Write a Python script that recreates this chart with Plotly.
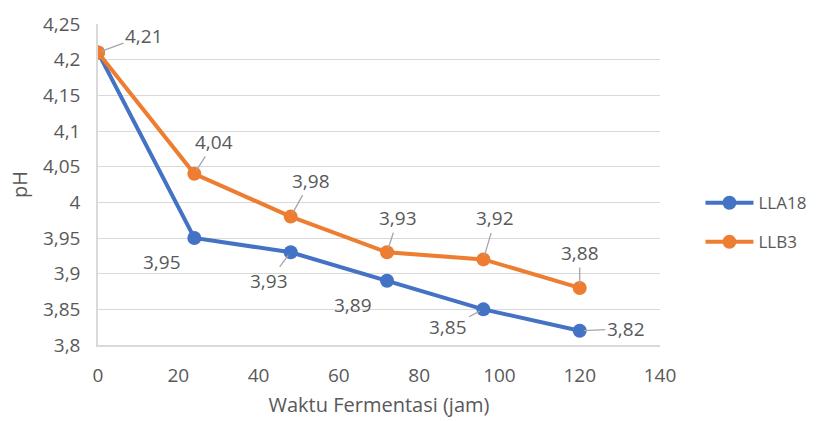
import plotly.graph_objects as go

hours = [0, 24, 48, 72, 96, 120]
lla18 = [4.21, 3.95, 3.93, 3.89, 3.85, 3.82]
llb3 = [4.21, 4.04, 3.98, 3.93, 3.92, 3.88]
lla18_labels = ["", "3,95", "3,93", "3,89", "3,85", "3,82"]
llb3_labels = ["4,21", "4,04", "3,98", "3,93", "3,92", "3,88"]
y_ticks = [3.8, 3.85, 3.9, 3.95, 4.0, 4.05, 4.1, 4.15, 4.2, 4.25]
y_ticktext = ["3,8", "3,85", "3,9", "3,95", "4", "4,05", "4,1", "4,15", "4,2", "4,25"]
x_ticks = [0, 20, 40, 60, 80, 100, 120, 140]

BLUE = "#4472C4"
ORANGE = "#ED7D31"
TXT = "#595959"
FONT = "Open Sans"

# label offsets (pixels) and whether a leader line is drawn
lla18_off = [None, (-32, 24, False), (-22, 29, True), (-34, 24, False), (-35, 18, True), (46, -2, True)]
llb3_off = [(46, -17, True), (20, -32, True), (20, -36, True), (11, -34, True), (12, -41, True), (0, -35, True)]

fig = go.Figure()
fig.add_trace(go.Scatter(x=hours, y=lla18, name="LLA18", mode="lines+markers",
                         line=dict(color=BLUE, width=4), marker=dict(size=14, color=BLUE),
                         legendgroup="a"))
fig.add_trace(go.Scatter(x=hours, y=llb3, name="LLB3", mode="lines+markers",
                         line=dict(color=ORANGE, width=4), marker=dict(size=14, color=ORANGE),
                         legendgroup="b"))

annotations = []
for xs, ys, labs, offs in [(hours, lla18, lla18_labels, lla18_off), (hours, llb3, llb3_labels, llb3_off)]:
    for x, y, t, o in zip(xs, ys, labs, offs):
        if not t or o is None:
            continue
        ax, ay, lead = o
        annotations.append(dict(x=x, y=y, text=t, showarrow=True, arrowhead=0, ax=ax, ay=ay,
                                arrowwidth=1.3, standoff=4,
                                arrowcolor="#A6A6A6" if lead else "rgba(0,0,0,0)",
                                font=dict(family=FONT, size=19, color=TXT)))

fig.update_layout(
    width=824, height=421,
    margin=dict(l=98, r=161, t=24, b=76),
    paper_bgcolor="white", plot_bgcolor="white",
    font=dict(family=FONT, size=19, color=TXT),
    annotations=annotations,
    legend=dict(x=1.072, y=0.381, xanchor="left", yanchor="middle",
                traceorder="grouped", tracegroupgap=14, itemwidth=48,
                font=dict(family=FONT, size=17, color=TXT)),
    showlegend=True,
)
fig.update_xaxes(range=[0, 140], tickvals=x_ticks, showgrid=False, zeroline=False,
                 showline=True, linecolor="#D9D9D9", linewidth=1.5, automargin=False,
                 ticks="", ticklabelstandoff=12,
                 title=dict(text="Waktu Fermentasi (jam)", font=dict(size=20, color=TXT), standoff=11))
fig.update_yaxes(range=[3.8, 4.25], tickvals=y_ticks, ticktext=y_ticktext,
                 showgrid=True, gridcolor="#D9D9D9", gridwidth=1.3, zeroline=False,
                 showline=True, linecolor="#D9D9D9", linewidth=1.5, automargin=False,
                 ticks="", ticklabelstandoff=12,
                 title=dict(text="pH", font=dict(size=20, color=TXT), standoff=10))

fig.write_html("out.html", config={"displayModeBar": False},
               post_script="document.body.style.margin='0';")
